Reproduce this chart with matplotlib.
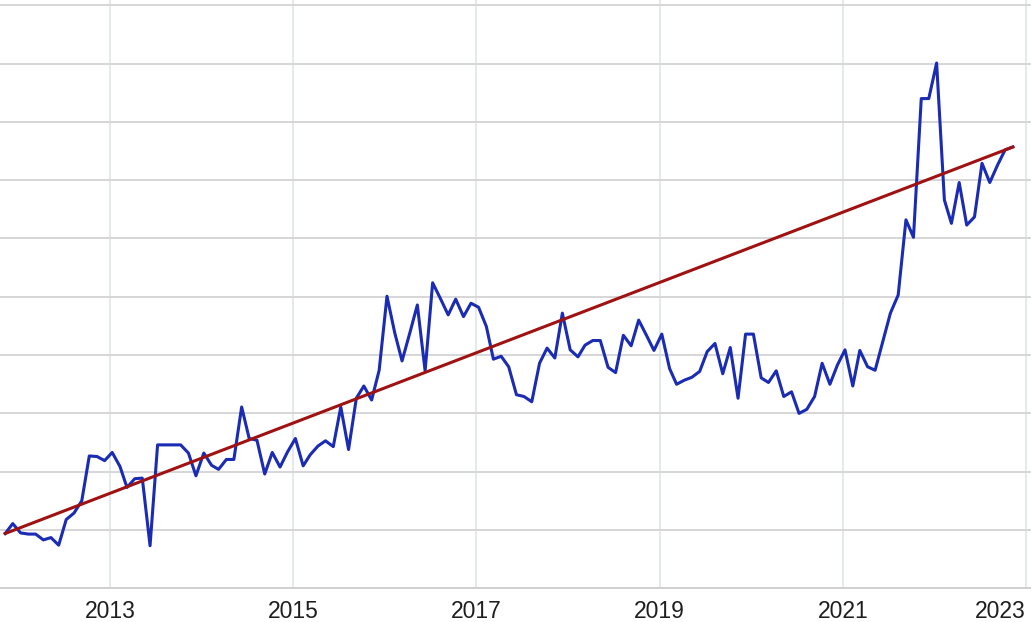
import numpy as np
import pandas as pd
import matplotlib
matplotlib.use("Agg")
import matplotlib.pyplot as plt

# Monthly series, Nov 2011 .. Nov 2022 (arbitrary units)
start_month = "2011-11-10"
values = [
    0.94, 1.11, 0.95, 0.93, 0.93, 0.83, 0.87, 0.74, 1.18, 1.29, 1.50, 2.27, 2.26, 2.19,   # 2011-11 .. 2012-12
    2.33, 2.09, 1.73, 1.88, 1.89, 0.73, 2.46, 2.46, 2.46, 2.46, 2.32, 1.93,               # 2013
    2.32, 2.11, 2.04, 2.21, 2.21, 3.11, 2.57, 2.54, 1.96, 2.33, 2.08, 2.34,               # 2014
    2.57, 2.10, 2.29, 2.44, 2.53, 2.43, 3.11, 2.38, 3.26, 3.47, 3.23, 3.74,               # 2015
    5.01, 4.38, 3.90, 4.38, 4.86, 3.73, 5.24, 4.97, 4.69, 4.96, 4.66, 4.89,               # 2016
    4.82, 4.49, 3.93, 3.98, 3.80, 3.32, 3.29, 3.20, 3.86, 4.12, 3.95, 4.72,               # 2017
    4.09, 3.97, 4.17, 4.25, 4.25, 3.79, 3.70, 4.34, 4.16, 4.60, 4.34, 4.08,               # 2018
    4.36, 3.77, 3.50, 3.57, 3.62, 3.72, 4.06, 4.20, 3.68, 4.13, 3.26, 4.36,               # 2019
    4.36, 3.61, 3.53, 3.73, 3.29, 3.37, 3.00, 3.07, 3.29, 3.86, 3.50, 3.83,               # 2020
    4.09, 3.47, 4.08, 3.80, 3.74, 4.24, 4.72, 5.03, 6.32, 6.02, 8.40, 8.40,               # 2021
    9.01, 6.66, 6.26, 6.96, 6.23, 6.37, 7.29, 6.96, 7.26, 7.52, 7.57,                     # 2022
]
tick_years = [2013, 2015, 2017, 2019, 2021, 2023]
tick_labels = ["2013", "2015", "2017", "2019", "2021", "2023"]

dates = pd.date_range("2011-11-01", periods=len(values), freq="MS") + pd.Timedelta(days=9)
x = dates.year + (dates.dayofyear - 1) / 365.25
# straight trend line from first to last observation
trend_x = [x[0], x[-1]]
trend_y = [values[0], values[-1]]

fig = plt.figure(figsize=(10.31, 6.22), dpi=100)
ax = fig.add_axes([0.0, (622 - 588.3) / 622, 1.0, 588.3 / 622])
ax.set_xlim(2011.80, 2023.055)
ax.set_ylim(0, 588.3 / 58.3)

ax.plot(x, values, color="#1a2bb4", lw=2.2, solid_joinstyle="round", zorder=3)
ax.plot(trend_x, trend_y, color="#a01212", lw=2.2, zorder=4)

ax.set_yticks(np.arange(0, 11))
ax.set_yticklabels([])
ax.tick_params(axis="y", length=0)
ax.set_xticks(tick_years)
ax.set_xticklabels(tick_labels, fontsize=16.5, family="Liberation Sans", color="#1e1e1e")
ax.tick_params(axis="x", length=0, pad=8.5)
ax.get_xticklabels()[-1].set_horizontalalignment("right")

ax.grid(axis="y", color="#d6d6d6", lw=1.4)
ax.grid(axis="x", color="#e2e7ea", lw=1.3)
ax.set_axisbelow(True)
for s in ["top", "left", "right"]:
    ax.spines[s].set_visible(False)
ax.spines["bottom"].set_color("#d0d0d0")
ax.spines["bottom"].set_linewidth(1.4)

fig.savefig("out.png", dpi=100)
